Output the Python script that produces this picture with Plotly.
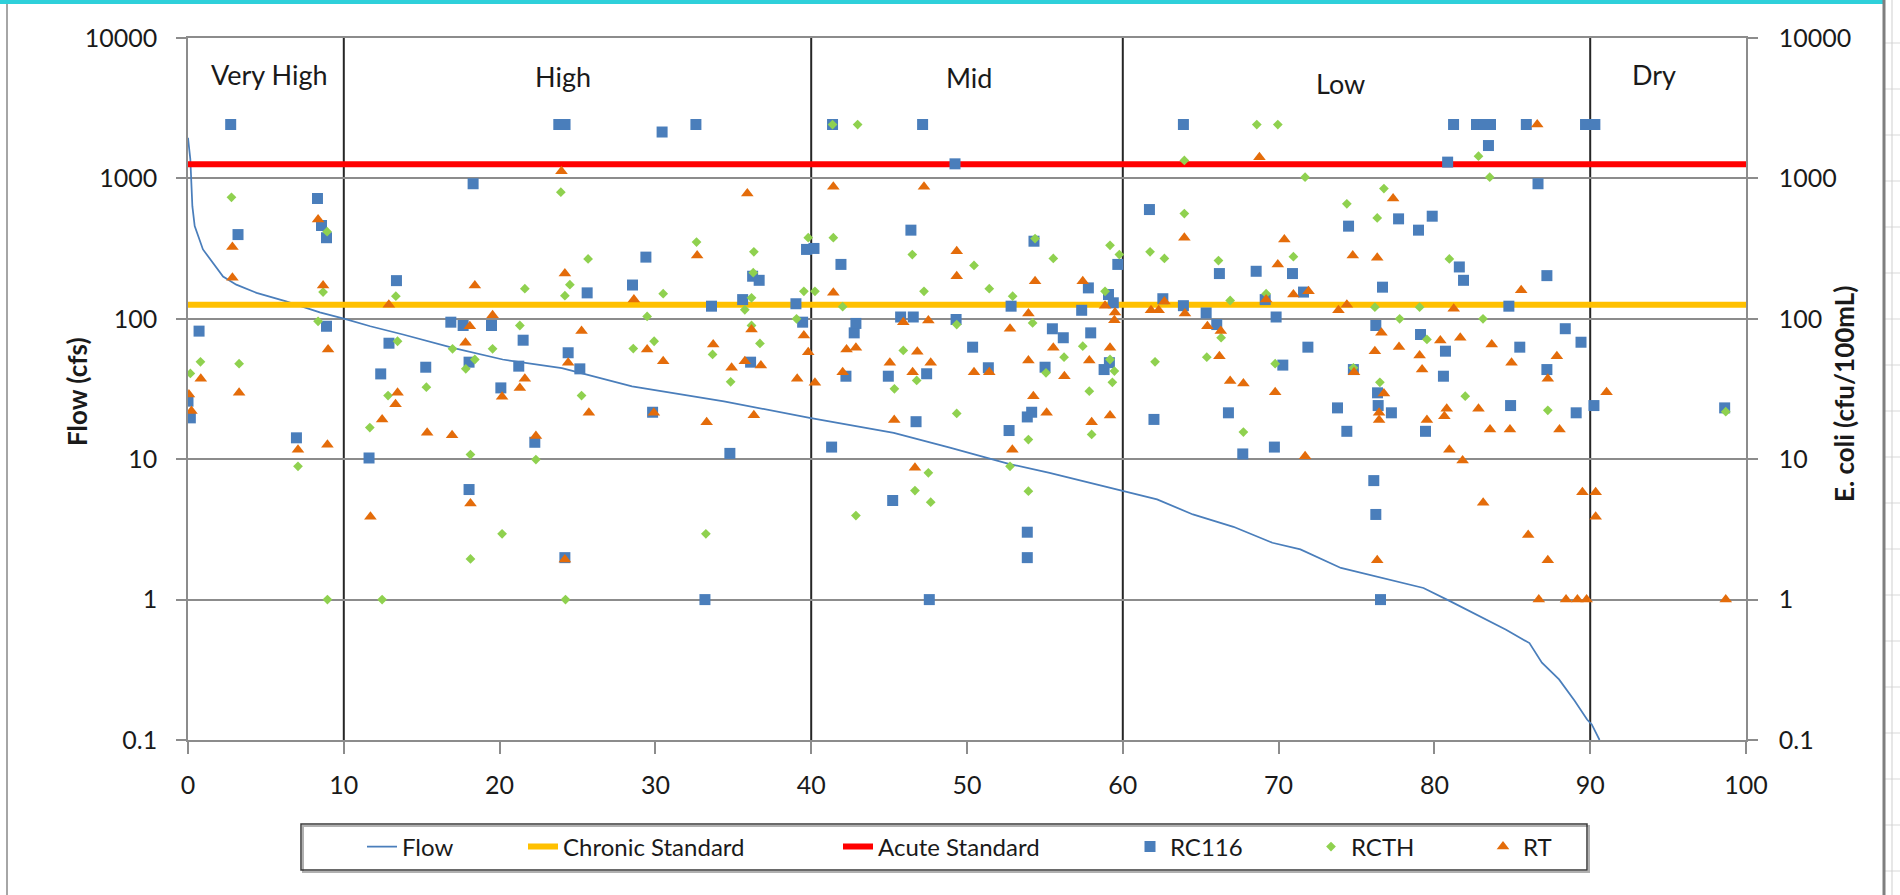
import plotly.graph_objects as go

# ---------------- data ----------------
flow_pct = [0, 0.15, 0.28, 0.43, 0.96, 1.6, 2.25, 3.1, 4.4, 6.3, 8.46, 10.06, 11.7, 13.8, 17.0,
            20.2, 24.0, 28.5, 34.4, 39.9, 45.3, 48.9, 52.8, 55.3, 57.9, 59.6, 62.2, 64.5, 67.1,
            69.6, 71.4, 74.0, 79.3, 81.0, 84.6, 86.1, 86.9, 88.0, 89.0, 89.8, 90.1, 90.6]
flow_cfs = [1946, 1365, 634, 457, 312, 250, 200, 175, 153, 133, 111, 100, 88.5, 77.3, 62,
            51.3, 44.5, 33, 25.8, 19.7, 15.4, 12.1, 9.2, 8.0, 6.8, 6.1, 5.17, 4.04, 3.3,
            2.54, 2.28, 1.68, 1.21, 0.975, 0.61, 0.49, 0.355, 0.27, 0.19, 0.14, 0.129, 0.1]

chronic_standard = 126
acute_standard = 1260

rc116_pct = [0.0, 0.15, 0.71, 2.74, 3.21, 6.96, 8.31, 8.57, 8.89, 8.89,
             11.62, 12.37, 12.9, 13.38, 15.26, 16.87, 17.66, 18.04, 18.04, 18.3, 19.48, 20.08,
             21.23, 21.51, 22.26, 23.8, 24.2, 24.19, 24.4, 25.15, 25.62, 28.53, 29.39, 29.82,
             30.43, 32.6, 33.18, 33.6, 34.78, 35.6, 36.11, 36.24, 36.66, 39.02, 39.45, 39.7,
             40.18, 41.31, 41.37, 41.91, 42.23, 42.76, 42.87, 44.95, 45.23, 45.74, 46.4, 46.55,
             46.73, 47.15, 47.41, 47.58, 49.23, 49.3, 50.36, 51.37, 52.7, 52.83, 53.87, 53.87,
             53.87, 54.15, 54.3, 55.01, 55.48, 56.18, 57.36, 57.79, 57.94, 58.8, 59.08, 59.14,
             59.39, 59.68,
             61.71, 62.0, 62.57, 63.89, 63.89, 65.35, 66.03, 66.2, 66.78, 67.7, 68.56, 69.14,
             69.73, 69.84, 70.27, 70.89, 71.6, 71.88, 73.78, 74.38, 74.49, 74.8, 76.11, 76.24,
             76.24, 76.35, 76.39, 76.54, 76.67, 77.24, 77.7, 78.98, 79.11, 79.43, 79.86, 80.58,
             80.71, 80.85, 81.23, 81.6, 81.87, 82.7, 83.2, 83.6, 83.47, 84.78, 84.89, 85.48,
             85.9, 86.65, 87.22, 87.22, 88.4, 89.1, 89.41, 89.7,
             90.3, 90.24, 98.63]
rc116_ecoli = [25.9, 19.7, 81.7, 2420, 398, 14.2, 719, 462, 378, 88.5,
               10.2, 40.5, 67, 187, 45.2, 94.6, 89.6, 49.1, 6.08, 916, 89.6, 32.2,
               46, 70.4, 13.2, 2420, 2420, 1.99, 57.3, 44, 153, 174, 275, 21.6,
               2140, 2420, 1.0, 123, 11, 137, 49.1, 201, 188, 128, 94.6, 312,
               317, 12.2, 2420, 244, 39, 79.4, 92.7, 39, 5.08, 103, 428, 103,
               18.5, 2420, 40.6, 1.0, 1270, 98.9, 62.8, 44.8, 16, 123, 20, 3.02,
               1.99, 21.6, 357, 45.2, 84.9, 73.3, 115, 166, 79.4, 43.5, 149, 48.7,
               130, 244,
               600, 19.2, 139, 2420, 124, 110, 91, 210, 21.4, 10.9, 218, 137,
               12.2, 103, 46.8, 210, 155, 62.8, 23.2, 15.8, 457, 43.5, 7.04, 89.6,
               4.04, 29.7, 24.1, 1.0, 168, 21.4, 515, 428, 77.3, 15.8, 538, 39,
               58.8, 1306, 2420, 234, 188, 2420, 2420, 2420, 1714, 123, 24.1, 62.8,
               2420, 916, 203, 43.5, 85, 21.4, 68.1, 2420,
               2420, 24.1, 23.2]

rcth_pct = [0.15, 0.8, 2.79, 3.28, 7.06, 8.35, 8.67, 8.93, 8.95,
            11.67, 12.46, 12.84, 13.34, 13.45, 15.3, 16.98, 17.83, 18.13, 18.13, 18.41, 19.55,
            20.16, 21.3, 21.62, 22.33, 23.93, 24.19, 24.23, 24.51, 25.26, 25.68, 28.58, 29.47,
            29.92, 30.5, 32.64, 33.24, 33.67, 34.83, 35.74, 36.17, 36.17, 36.28, 36.32, 36.71,
            39.06, 39.53, 39.81,
            40.24, 41.37, 41.42, 42.02, 42.87, 42.98, 45.34, 45.91, 46.49, 46.66, 46.77, 47.24,
            47.52, 47.67, 49.34, 49.34, 50.45, 51.43, 52.76, 52.93, 53.94, 53.94, 54.21, 54.37,
            55.07, 55.54, 56.23, 57.43, 57.85, 58.0, 58.86, 59.18, 59.18, 59.33, 59.46, 59.78,
            61.75, 62.07, 62.67, 63.95, 63.95, 65.39, 66.14, 66.31, 66.89, 67.74, 68.6, 69.2,
            69.78, 69.95, 70.95, 71.7, 74.38, 74.8, 76.18, 76.33, 76.5, 76.76, 77.77, 79.05,
            79.52, 80.96, 81.98, 82.83, 83.12, 83.55, 87.28,
            98.7]
rcth_ecoli = [40.8, 49.4, 734, 47.9, 8.9, 96, 155, 417, 1.0,
              16.8, 1.0, 28.4, 145, 69.2, 32.6, 61.1, 44, 10.8, 1.95, 51.3, 61.1,
              2.94, 89.6, 164, 9.95, 798, 146, 1.0, 175, 28.4, 267, 61.4, 104,
              69.2, 151, 352, 2.94, 55.7, 35.6, 116, 141, 89.6, 213, 300, 66.7,
              100, 157, 378,
              157, 2420, 378, 122, 3.97, 2420, 31.7, 59.5, 287, 5.98, 36.4, 157,
              8.0, 4.94, 91, 21.2, 240, 164, 8.9, 145, 13.8, 5.92, 93.5, 373,
              41.2, 269, 53.3, 63.8, 30.5, 15, 157, 334, 51.3, 35.3, 42.4, 287,
              300, 49.4, 269, 1343, 562, 53.3, 260, 73.3, 135, 15.6, 2420, 151,
              47.9, 2420, 277, 1021, 659, 44.8, 121, 523, 35.3, 847, 100, 121,
              71.3, 267, 28.1, 1440, 100, 1021, 22.3,
              21.8]

rt_pct = [0.06, 0.22, 0.82, 2.85, 2.85, 3.28, 7.06, 8.35, 8.67, 8.95, 8.99,
          11.71, 12.46, 12.89, 13.32, 13.45, 15.35, 16.95, 17.81, 18.09, 18.13, 18.41, 19.55,
          20.16, 21.3, 21.62, 22.33, 23.97, 24.19, 24.19, 24.4, 25.26, 25.73, 28.62, 29.47,
          29.9, 30.5, 32.68, 33.29, 33.71, 34.89, 35.74, 35.9, 36.17, 36.32, 36.77, 39.1,
          39.53, 39.81,
          40.24, 41.42, 41.42, 42.02, 42.27, 42.87, 45.05, 45.33, 45.91, 46.51, 46.66, 46.81,
          47.24, 47.52, 47.67, 49.34, 49.34, 50.45, 51.43, 52.76, 52.91, 53.94, 53.94, 54.26,
          54.37, 55.11, 55.54, 56.25, 57.43, 57.85, 58.0, 58.86, 59.18, 59.18, 59.46, 59.5,
          61.81, 62.3, 62.67, 63.95, 63.99, 65.43, 66.2, 66.29, 66.89, 67.74, 68.77, 69.2,
          69.78, 69.95, 70.37, 70.95, 71.7, 71.92, 73.84, 74.38, 74.76, 74.84, 76.18, 76.33,
          76.33, 76.45, 76.45, 76.6, 76.76, 77.35, 77.73, 79.05, 79.21, 79.52, 80.38, 80.64,
          80.79, 80.96, 81.24, 81.66, 81.81, 82.83, 83.13, 83.57, 83.68, 84.85, 84.95, 85.57,
          86.02, 86.6, 86.7, 87.28, 87.28, 87.86, 88.03, 88.45, 89.18, 89.5, 89.77,
          90.35, 90.35, 91.05, 98.7]
rt_ecoli = [28.9, 22, 37.4, 324, 196, 29.7, 11.7, 509, 173, 12.7, 60.4,
            3.89, 19.2, 126, 24.6, 29.7, 15.4, 14.8, 67.4, 88.6, 4.84, 173, 106,
            27.8, 32.2, 37.4, 14.6, 1125, 1.93, 210, 48.7, 81.7, 21.4, 137, 60.4,
            21.4, 49.9, 282, 18.3, 65.7, 44.8, 49.9, 780, 83.9, 20.6, 46.5, 37.4,
            76, 57.8,
            35, 871, 153, 41.7, 60.4, 62.1, 48.7, 19, 94.6, 41.7, 8.68, 58.2,
            871, 97.3, 48.7, 303, 201, 41.7, 41.7, 84.9, 11.7, 109, 50.5, 28.1,
            185, 21.4, 62.1, 39, 185, 50.5, 18.3, 124, 62.1, 20.5, 97.8, 111,
            115, 115, 133, 378, 109, 88.6, 54.2, 81.7, 36, 34.6, 1416, 137,
            30, 244, 367, 149, 10.5, 157, 115, 126, 282, 41.7, 58.8, 272,
            1.91, 21.4, 19, 79.4, 29.4, 719, 63.1, 54.8, 43.5, 19, 70, 20.2,
            22.9, 11.7, 118, 73.3, 9.8, 22.9, 4.89, 16.3, 65.7, 16.3, 48.7, 160,
            2.88, 2420, 1.0, 37.4, 1.91, 54.2, 16.3, 1.0, 1.0, 5.82, 1.0,
            5.82, 3.89, 30, 1.0]

regime_bounds = [10, 40, 60, 90]
regime_labels = ["Very High", "High", "Mid", "Low", "Dry"]
regime_label_x = [5.2, 24.1, 50.1, 74.0, 94.1]

y_tickvals = [0.1, 1, 10, 100, 1000, 10000]
y_ticktext = ["0.1", "1", "10", "100", "1000", "10000"]
x_tickvals = list(range(0, 101, 10))

# ---------------- styling ----------------
FONT = "Lato, Carlito, Calibri, 'Open Sans', sans-serif"
TXT = "#1a1a1a"
GRID = "#8c8c8c"
W, H = 1900, 895
L, R, T, B = 188, 154, 38, 155
PW, PH = W - L - R, H - T - B


def px_x(p):
    return (p - L) / PW


def px_y(p):
    return 1 - (p - T) / PH


fig = go.Figure()

fig.add_trace(go.Scatter(x=flow_pct, y=flow_cfs, mode="lines", name="Flow",
                         line=dict(color="#4a7ebb", width=1.75), yaxis="y",
                         legend="legend"))
fig.add_trace(go.Scatter(x=[0, 100], y=[chronic_standard] * 2, mode="lines",
                         name="Chronic Standard", line=dict(color="#FFC000", width=6),
                         yaxis="y2", legend="legend2"))
fig.add_trace(go.Scatter(x=[0, 100], y=[acute_standard] * 2, mode="lines",
                         name="Acute Standard", line=dict(color="#FF0000", width=6),
                         yaxis="y2", legend="legend3"))
fig.add_trace(go.Scatter(x=rc116_pct, y=rc116_ecoli, mode="markers", name="RC116",
                         marker=dict(symbol="square", size=11, color="#4a7ebb"),
                         yaxis="y2", legend="legend4"))
fig.add_trace(go.Scatter(x=rcth_pct, y=rcth_ecoli, mode="markers", name="RCTH",
                         marker=dict(symbol="diamond", size=7.5, color="#8fd14f"),
                         yaxis="y2", legend="legend5"))
fig.add_trace(go.Scatter(x=rt_pct, y=rt_ecoli, mode="markers", name="RT",
                         marker=dict(symbol="triangle-up", size=11, color="#e46c0a"),
                         yaxis="y2", legend="legend6"))

shapes = []
for b in regime_bounds:
    shapes.append(dict(type="line", xref="x", yref="paper", x0=b, x1=b, y0=0, y1=1,
                       line=dict(color="#262626", width=2), layer="between"))

# legend box
shapes.append(dict(type="rect", xref="paper", yref="paper",
                   x0=px_x(303), x1=px_x(1589), y0=px_y(872), y1=px_y(826),
                   line=dict(color="#b0b0b0", width=2), layer="below"))
shapes.append(dict(type="rect", xref="paper", yref="paper",
                   x0=px_x(301), x1=px_x(1587), y0=px_y(870), y1=px_y(824),
                   line=dict(color="#3a3a3a", width=1.5), fillcolor="rgba(0,0,0,0)",
                   layer="below"))
# window decorations (spreadsheet frame)
shapes.append(dict(type="rect", xref="paper", yref="paper", x0=px_x(0), x1=px_x(1884),
                   y0=px_y(4), y1=px_y(0), line=dict(width=0), fillcolor="#2ed0da",
                   layer="below"))
shapes.append(dict(type="line", xref="paper", yref="paper", x0=px_x(7), x1=px_x(7),
                   y0=px_y(895), y1=px_y(4), line=dict(color="#a6a6a6", width=2)))
for gy in range(43, 895, 46):
    shapes.append(dict(type="line", xref="paper", yref="paper", x0=px_x(1885), x1=px_x(1900),
                       y0=px_y(gy), y1=px_y(gy), line=dict(color="#d9d9d9", width=1)))
shapes.append(dict(type="line", xref="paper", yref="paper", x0=px_x(1892), x1=px_x(1892),
                   y0=px_y(895), y1=px_y(0), line=dict(color="#cfcfcf", width=1)))
shapes.append(dict(type="line", xref="paper", yref="paper", x0=px_x(1884), x1=px_x(1884),
                   y0=px_y(895), y1=px_y(0), line=dict(color="#7f7f7f", width=3)))

annotations = []
label_y = [74, 76, 78, 83, 74]
for lab, lx, ly in zip(regime_labels, regime_label_x, label_y):
    annotations.append(dict(text=lab, x=lx, xref="x", y=px_y(ly), yref="paper",
                            showarrow=False, xanchor="center", yanchor="middle",
                            font=dict(family=FONT, size=27, color=TXT)))
annotations.append(dict(text="Flow (cfs)", x=px_x(59), y=px_y(392), xref="paper",
                        yref="paper", showarrow=False, textangle=-90,
                        font=dict(family=FONT, size=26, color=TXT, weight="bold")))
annotations.append(dict(text="E. coli (cfu/100mL)", x=px_x(1862), y=px_y(394),
                        xref="paper", yref="paper", showarrow=False, textangle=-90,
                        font=dict(family=FONT, size=26, color=TXT, weight="bold")))

axis_font = dict(family=FONT, size=25, color=TXT)
common_y = dict(type="log", range=[-1, 4], tickvals=y_tickvals, ticktext=y_ticktext,
                tickfont=axis_font, ticks="outside", ticklen=10, tickwidth=1.5,
                tickcolor=GRID, showline=True, linecolor=GRID, linewidth=1.5,
                zeroline=False)

legend_common = dict(orientation="h", yanchor="middle", xanchor="left",
                     y=px_y(847), bgcolor="rgba(0,0,0,0)", borderwidth=0,
                     font=dict(family=FONT, size=24, color=TXT))
legend_text_x = [407, 568, 883, 1175, 1356, 1528]
legends = {}
for i, tx in enumerate(legend_text_x):
    key = "legend" if i == 0 else f"legend{i + 1}"
    legends[key] = dict(legend_common, x=px_x(tx - 45))

fig.update_layout(
    width=W, height=H,
    margin=dict(l=L, r=R, t=T, b=B, autoexpand=False),
    paper_bgcolor="white", plot_bgcolor="white",
    xaxis=dict(range=[0, 100], tickvals=x_tickvals, tickfont=axis_font,
               showgrid=False, zeroline=False, showline=True, linecolor=GRID,
               linewidth=1.5, mirror=True, ticks="outside", ticklen=12,
               tickwidth=1.5, tickcolor=GRID, ticklabelstandoff=10),
    yaxis=dict(common_y, showgrid=True, gridcolor=GRID, gridwidth=1.5, mirror=True,
               ticklabelstandoff=14),
    yaxis2=dict(common_y, overlaying="y", side="right", showgrid=False,
                ticklabelstandoff=16),
    shapes=shapes,
    annotations=annotations,
    showlegend=True,
    **legends,
)

fig.write_html("out.html")
